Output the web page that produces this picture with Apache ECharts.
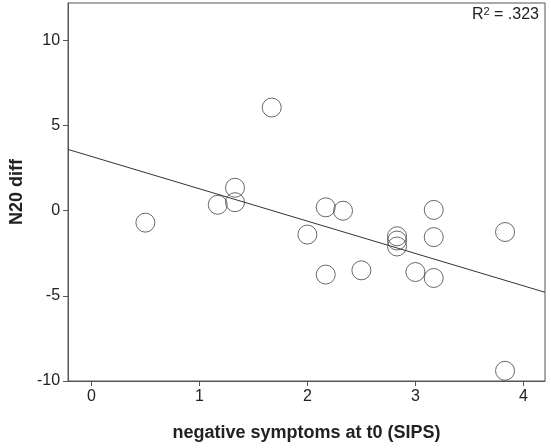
<!DOCTYPE html>
<html><head><meta charset="utf-8">
<script src="https://cdn.jsdelivr.net/npm/echarts@6/dist/echarts.min.js"></script>
<style>html,body{margin:0;background:#fff}#c{width:551px;height:448px}</style>
</head><body><div id="c"></div>
<script>
var xVals = [0.5, 1.17, 1.33, 1.33, 1.67, 2.0, 2.17, 2.17, 2.33, 2.5, 2.83, 2.83, 2.83, 3.0, 3.17, 3.17, 3.17, 3.83, 3.83];
var yVals = [-0.7, 0.35, 1.35, 0.5, 6.06, -1.4, 0.2, -3.75, 0.0, -3.5, -1.5, -1.75, -2.1, -3.6, 0.05, -1.55, -3.95, -1.25, -9.4];
var xTicks = [0, 1, 2, 3, 4];
var yTicks = [-10, -5, 0, 5, 10];
var fitLine = [[-0.216, 3.6], [4.2, -4.79]];

var chart = echarts.init(document.getElementById('c'));
var axisCommon = {
  axisLine: {show: true, onZero: false, lineStyle: {color: '#555', width: 1}},
  axisTick: {show: true, inside: false, length: 5, lineStyle: {color: '#555'}},
  splitLine: {show: false},
  axisLabel: {color: '#222', fontSize: 16, fontFamily: 'Liberation Sans, Arial'},
  nameTextStyle: {color: '#222', fontSize: 18, fontWeight: 'bold', fontFamily: 'Liberation Sans, Arial'}
};
chart.setOption({
  animation: false,
  grid: {left: 67, right: 6, top: 3, bottom: 67, show: true, borderColor: '#555', borderWidth: 1},
  xAxis: echarts.util.merge({
    type: 'value', min: -0.216, max: 4.2,
    name: 'negative symptoms at t0 (SIPS)', nameLocation: 'middle', nameGap: 43,
    axisTick: {customValues: xTicks}, axisLabel: {customValues: xTicks, margin: 8}
  }, axisCommon),
  yAxis: echarts.util.merge({
    type: 'value', min: -10, max: 12.2,
    name: 'N20 diff', nameLocation: 'middle', nameGap: 36,
    axisTick: {customValues: yTicks}, axisLabel: {customValues: yTicks, margin: 8}
  }, axisCommon),
  series: [{
    type: 'scatter',
    data: xVals.map(function (x, i) { return [x, yVals[i]]; }),
    symbol: 'circle', symbolSize: 19,
    itemStyle: {color: 'rgba(255,255,255,0)', borderColor: '#444', borderWidth: 1}
  }, {
    type: 'line', data: fitLine, symbol: 'none',
    lineStyle: {color: '#333', width: 1}
  }],
  graphic: [{
    type: 'text', right: 12, top: 6,
    style: {rich: {b: {fontSize: 16, fill: '#222', fontFamily: 'Liberation Sans, Arial'},
                   s: {fontSize: 11, fill: '#222', verticalAlign: 'top', padding: [0,0,6,0]}},
            text: '{b|R}{s|2}{b| = .323}'}
  }]
});
</script></body></html>
